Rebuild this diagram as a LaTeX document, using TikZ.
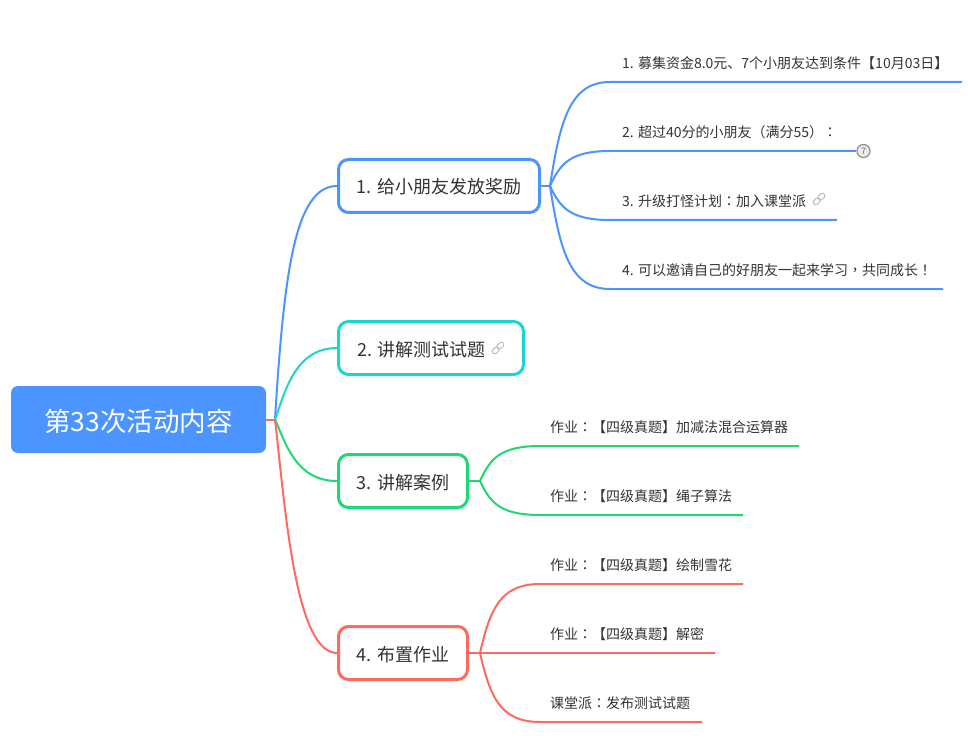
\documentclass[tikz,border=0pt]{standalone}
\usepackage{fontspec}
\setmainfont{Noto Sans CJK SC}
\newfontfamily\midpunct{Noto Sans CJK TC}
\definecolor{mapblue}{HTML}{4C94FF}
\definecolor{mapteal}{HTML}{1BD6D0}
\definecolor{mapgreen}{HTML}{1FD873}
\definecolor{mapred}{HTML}{FF6A5F}
\definecolor{maptext}{HTML}{333333}
\tikzset{
    rootbox/.style={fill=mapblue, rounded corners=7pt, text=white, inner sep=0pt, text height=24pt, text depth=1pt, minimum width=255pt, minimum height=67pt, font=\fontsize{26.5}{30}\selectfont},
    mainbox/.style={draw=#1, fill=white, line width=3pt, rounded corners=10pt, text=maptext, inner sep=0pt, text height=17pt, text depth=1pt, minimum height=53pt, font=\fontsize{18}{22}\selectfont},
    leaftext/.style={anchor=west, inner sep=0pt, text=maptext, font=\fontsize{14}{17}\selectfont},
    branch/.style={draw=#1, line width=2pt},
    linkicon/.pic={
        \draw[gray!55, line width=0.9pt, rounded corners=2pt, rotate=45] (-7,-2.4) rectangle (0.5,2.4);
        \draw[gray!55, line width=0.9pt, rounded corners=2pt, rotate=45] (-0.5,-2.4) rectangle (7,2.4);
    }
}
\begin{document}
\begin{tikzpicture}[x=1pt, y=-1pt]
    \useasboundingbox (0,0) rectangle (968,743);

    % Fork points
    \coordinate (rootfork) at (275,419.5);
    \coordinate (forka) at (550,186);
    \coordinate (forkc) at (480,481);
    \coordinate (forkd) at (480,653);

    % Root and main topics
    \node[rootbox] (root) at (138.5,419.5) {第33次活动内容};
    \node[mainbox=mapblue, minimum width=201pt] (topica) at (439,186) {1. 给小朋友发放奖励};
    \node[mainbox=mapteal, minimum width=185pt] (topicb) at (431,348) {2. 讲解测试试题\hspace*{19pt}};
    \node[mainbox=mapgreen, minimum width=129pt] (topicc) at (403,481) {3. 讲解案例};
    \node[mainbox=mapred, minimum width=129pt] (topicd) at (403,653) {4. 布置作业};
    \pic at (498,348) {linkicon};

    % Root connectors
    \draw[branch=mapblue] (rootfork) .. controls (284,272) and (295,186) .. (topica.west);
    \draw[branch=mapteal] (rootfork) .. controls (285,392) and (295,348) .. (topicb.west);
    \draw[branch=mapgreen] (rootfork) .. controls (285,441) and (295,481) .. (topicc.west);
    \draw[branch=mapred] (rootfork) .. controls (285,506) and (295,653) .. (topicd.west);
    \draw[branch=mapred] (root.east) -- (rootfork);

    % Topic stubs
    \draw[branch=mapblue] (topica.east) -- (forka);
    \draw[branch=mapgreen] (topicc.east) -- (forkc);
    \draw[branch=mapred] (topicd.east) -- (forkd);

    % Leaves
    \foreach \nm/\fk/\fx/\fy/\xt/\y/\xe/\c/\t in {
        leafa/forka/550/186/622/82/962/mapblue/{1. 募集资金8.0元、7个小朋友达到条件【10月03日】},
        leafb/forka/550/186/622/151/856/mapblue/{2. 超过40分的小朋友{\midpunct （}满分55{\midpunct ）：}},
        leafc/forka/550/186/622/220/837/mapblue/{3. 升级打怪计划{\midpunct ：}加入课堂派},
        leafd/forka/550/186/622/289/943/mapblue/{4. 可以邀请自己的好朋友一起来学习{\midpunct ，}共同成长{\midpunct ！}},
        leafe/forkc/480/481/550/446/799/mapgreen/{作业{\midpunct ：}【四级真题】加减法混合运算器},
        leaff/forkc/480/481/550/515/743/mapgreen/{作业{\midpunct ：}【四级真题】绳子算法},
        leafg/forkd/480/653/550/584/743/mapred/{作业{\midpunct ：}【四级真题】绘制雪花},
        leafh/forkd/480/653/550/653/715/mapred/{作业{\midpunct ：}【四级真题】解密},
        leafi/forkd/480/653/550/722/702/mapred/{课堂派{\midpunct ：}发布测试试题}} {
        \node[leaftext] (\nm) at (\xt,\y-19) {\t};
        \coordinate (\nm end) at (\xe,\y);
        \draw[branch=\c] (\fk) .. controls (\fx+10,{\y+0.37*(\fy-\y)}) and (\fx+20,\y) .. (\fx+60,\y) -- (\nm end);
    }

    % Badge and link on the second and third leaf
    \node[circle, draw=gray!90, fill=gray!15, line width=1.2pt, minimum size=13pt, inner sep=0pt, text=gray!90!black, font=\fontsize{9}{10}\selectfont] (badge) at (863.5,151) {7};
    \pic at (819,199) {linkicon};
\end{tikzpicture}
\end{document}
